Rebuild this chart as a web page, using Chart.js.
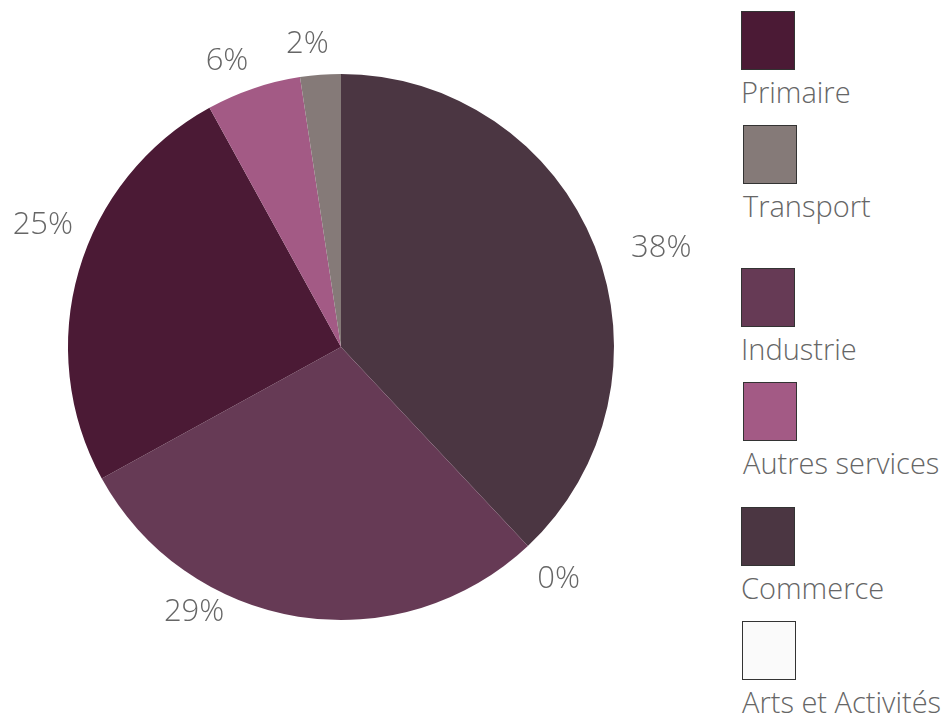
<!DOCTYPE html>
<html>
<head>
<meta charset="utf-8">
<script src="https://cdn.jsdelivr.net/npm/chart.js@4/dist/chart.umd.min.js"></script>
<style>
  html, body { margin: 0; padding: 0; background: #fff; }
  body { width: 943px; height: 718px; position: relative; overflow: hidden; font-family: "Open Sans", sans-serif; }
  #pieBox { position: absolute; left: 0; top: 0; width: 740px; height: 694px; }
  #legend { position: absolute; left: 0; top: 0; }
  .item { position: absolute; left: 741px; }
  .swatch { width: 52px; height: 57px; border: 1px solid #333; }
  .name { color: #666; font-size: 29px; font-weight: 300; line-height: 36px; margin-top: 4px; white-space: nowrap; }
</style>
</head>
<body>
<div id="pieBox"><canvas id="pie"></canvas></div>
<div id="legend"></div>
<script>
// slices in drawing order, clockwise from 12 o'clock
const categories = ['Commerce', 'Arts et Activités', 'Industrie', 'Primaire', 'Autres services', 'Transport'];
const shares = [38, 0, 29, 25, 5.6, 2.4];
const shareLabels = ['38%', '0%', '29%', '25%', '6%', '2%'];
const legendOrder = ['Primaire', 'Transport', 'Industrie', 'Autres services', 'Commerce', 'Arts et Activités'];

const colors = ['#4b3642', '#fafafa', '#663a55', '#4b1a35', '#a35a85', '#857a78'];
const legendTops = [11, 125, 268, 382, 507, 621];
const legendShift = [0, 2, 0, 2, 0, 1];

// nudge each percent label a bit, like the original layout
const labelAngle = [4.5, 0, 20, 6, -3, -2];
const labelGap = [62, 45, 30, 49, 35, 32];

const outsideLabels = {
  id: 'outsideLabels',
  afterDatasetsDraw(chart) {
    const ctx = chart.ctx;
    const arcs = chart.getDatasetMeta(0).data;
    ctx.save();
    ctx.fillStyle = '#666';
    ctx.font = '300 31px "Open Sans", sans-serif';
    ctx.textAlign = 'center';
    ctx.textBaseline = 'middle';
    arcs.forEach((arc, i) => {
      const mid = (arc.startAngle + arc.endAngle) / 2 + labelAngle[i] * Math.PI / 180;
      const r = arc.outerRadius + labelGap[i];
      ctx.fillText(shareLabels[i], arc.x + Math.cos(mid) * r, arc.y + Math.sin(mid) * r);
    });
    ctx.restore();
  }
};

new Chart(document.getElementById('pie').getContext('2d'), {
  type: 'pie',
  data: {
    labels: categories,
    datasets: [{
      data: shares,
      backgroundColor: colors,
      borderWidth: 0,
    }],
  },
  options: {
    responsive: true,
    maintainAspectRatio: false,
    animation: false,
    layout: { padding: { left: 68, right: 126, top: 68, bottom: 68 } },
    plugins: {
      legend: { display: false },
      tooltip: { enabled: false },
    },
  },
  plugins: [outsideLabels],
});

const legendEl = document.getElementById('legend');
legendOrder.forEach((name, k) => {
  const i = categories.indexOf(name);
  const item = document.createElement('div');
  item.className = 'item';
  item.style.top = legendTops[k] + 'px';
  item.style.left = (741 + legendShift[k]) + 'px';
  item.innerHTML = '<div class="swatch" style="background:' + colors[i] + '"></div><div class="name">' + name + '</div>';
  legendEl.appendChild(item);
});
</script>
</body>
</html>
